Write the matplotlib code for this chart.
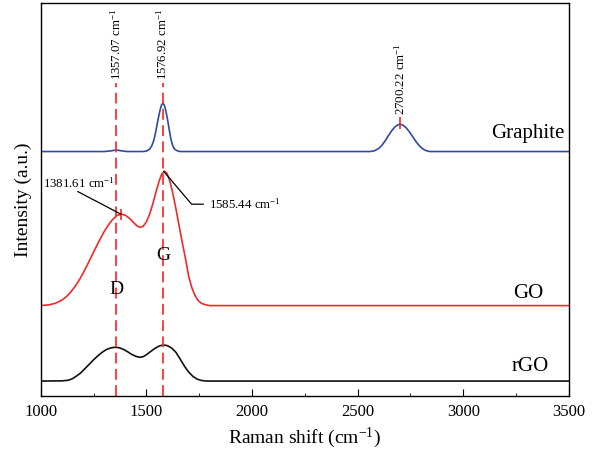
import matplotlib
matplotlib.use("Agg")
import matplotlib.pyplot as plt

plt.rcParams['font.family'] = ['Liberation Serif', 'DejaVu Serif']
plt.rcParams['mathtext.fontset'] = 'custom'
plt.rcParams['mathtext.rm'] = 'Liberation Serif'
plt.rcParams['mathtext.it'] = 'Liberation Serif:italic'

# Raman spectra (intensity in arbitrary units, offset stacked)
graphite_x = [1000, 1300, 1330, 1357, 1385, 1410, 1480, 1500, 1515, 1525, 1535,
              1545, 1555, 1565, 1572, 1578, 1585, 1592, 1600, 1608, 1616, 1624,
              1632, 1645, 1660, 2560, 2580, 2600, 2615, 2630, 2645, 2660, 2675,
              2690, 2703, 2715, 2730, 2745, 2760, 2775, 2790, 2805, 2820, 2840, 3500]
graphite_y = [62.2, 62.2, 62.35, 62.6, 62.35, 62.2, 62.2, 62.3, 62.8, 63.6, 65.0,
              67.4, 70.3, 72.8, 74.1, 74.5, 74.0, 72.6, 70.4, 67.8, 65.4, 63.8,
              62.9, 62.4, 62.2, 62.2, 62.4, 63.0, 63.8, 64.9, 66.2, 67.4, 68.4,
              69.0, 69.1, 68.9, 68.2, 67.2, 66.0, 64.8, 63.8, 63.0, 62.5, 62.2, 62.2]

go_x = [1000, 1040, 1070, 1100, 1120, 1140, 1160, 1180, 1200, 1220, 1240, 1260,
        1280, 1300, 1320, 1340, 1360, 1380, 1400, 1420, 1440, 1455, 1470, 1485,
        1500, 1515, 1530, 1545, 1560, 1572, 1585, 1597, 1610, 1625, 1640, 1655,
        1670, 1685, 1700, 1715, 1730, 1745, 1760, 1780, 1800, 3500]
go_y = [23.0, 23.2, 23.6, 24.4, 25.2, 26.3, 27.7, 29.3, 31.2, 33.3, 35.5, 37.7,
        39.8, 41.8, 43.5, 44.9, 45.9, 46.3, 46.0, 45.2, 44.1, 43.3, 42.9, 43.2,
        44.3, 46.2, 48.8, 51.8, 54.6, 56.4, 57.2, 56.7, 54.9, 51.6, 47.6, 43.3,
        39.0, 35.0, 30.5, 27.6, 25.6, 24.3, 23.6, 23.2, 23.0, 23.0]

rgo_x = [1000, 1100, 1130, 1150, 1170, 1190, 1210, 1230, 1250, 1270, 1290, 1310,
         1330, 1350, 1370, 1390, 1410, 1430, 1450, 1468, 1485, 1500, 1520, 1540,
         1560, 1580, 1600, 1620, 1640, 1660, 1680, 1700, 1720, 1740, 1760, 1785, 3500]
rgo_y = [3.8, 3.85, 4.0, 4.4, 5.1, 5.9, 7.0, 8.1, 9.2, 10.2, 11.1, 11.8,
         12.2, 12.4, 12.3, 11.9, 11.3, 10.6, 10.1, 9.85, 10.0, 10.5, 11.3, 12.1,
         12.7, 13.0, 12.8, 12.2, 11.1, 9.4, 7.6, 6.1, 5.0, 4.3, 3.95, 3.8, 3.8]

ref_lines = [1357.07, 1576.92]
ref_labels = ['1357.07 cm$^{-1}$', '1576.92 cm$^{-1}$']

fig = plt.figure(figsize=(5.92, 4.57), dpi=100)
ax = fig.add_axes([0.0688, 0.1335, 0.8923, 0.86])

ax.plot(graphite_x, graphite_y, color='#2f4b9f', lw=1.2)
ax.plot(go_x, go_y, color='#f02a2a', lw=1.2)
ax.plot(rgo_x, rgo_y, color='#111111', lw=1.2)

# dashed reference lines for D and G bands
for xv, lab in zip(ref_lines, ref_labels):
    ax.vlines(xv, 0, 79.6, colors='#ff3030', lw=1.3, linestyles=(0, (6, 3)))
    ax.text(xv, 80.4, lab, rotation=90, ha='center', va='bottom', fontsize=9.3)

# 2D peak of graphite
ax.vlines(2700.22, 67.9, 71.0, colors='#ff2020', lw=1.2)
ax.text(2700.22, 71.6, '2700.22 cm$^{-1}$', rotation=90, ha='center', va='bottom', fontsize=9.3)

# GO peak annotations
ax.vlines(1381.61, 44.8, 47.6, colors='#ff2020', lw=1.2)
ax.plot([1378, 1176], [46.3, 52.0], color='black', lw=0.9)
ax.text(1011, 54.0, '1381.61 cm$^{-1}$', ha='left', va='center', fontsize=9.3)
ax.plot([1583, 1714, 1769], [57.1, 48.8, 48.8], color='black', lw=0.9)
ax.text(1797, 48.9, '1585.44 cm$^{-1}$', ha='left', va='center', fontsize=9.3)

ax.text(1357, 27.0, 'D', ha='center', va='center', fontsize=14)
ax.text(1580, 35.7, 'G', ha='center', va='center', fontsize=14)

ax.text(3481, 66.9, 'Graphite', ha='right', va='center', fontsize=15)
ax.text(3377, 26.0, 'GO', ha='right', va='center', fontsize=15)
ax.text(3405, 7.6, 'rGO', ha='right', va='center', fontsize=15)

ax.set_xlim(1000, 3500)
ax.set_ylim(0, 100)
ax.set_xticks([1000, 1500, 2000, 2500, 3000, 3500])
ax.set_xticks([1250, 1750, 2250, 2750, 3250], minor=True)
ax.set_yticks([])
ax.tick_params(axis='x', which='major', direction='in', length=5, labelsize=12, pad=6)
ax.tick_params(axis='x', which='minor', direction='in', length=2.5)
for s in ax.spines.values():
    s.set_linewidth(1.0)

ax.set_xlabel('Raman shift (cm$^{-1}$)', fontsize=14, labelpad=4)
ax.set_ylabel('Intensity (a.u.)', fontsize=14, labelpad=6)

fig.savefig('out.png', dpi=100)
